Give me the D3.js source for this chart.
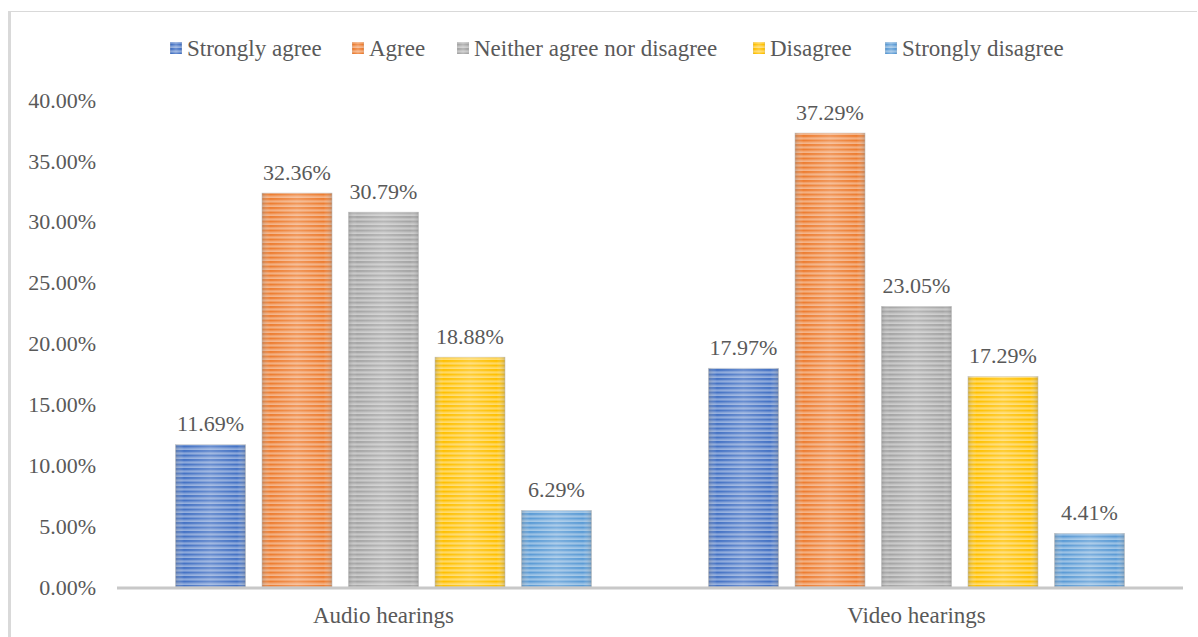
<!DOCTYPE html>
<html>
<head>
<meta charset="UTF-8" />
<title>Hearings survey</title>
<script src="https://d3js.org/d3.v7.min.js"></script>
<style>
  body { margin: 0; background: #fff; }
</style>
</head>
<body>
<div id="main"></div>
<script type="text/javascript">

  var categories = ['Audio hearings', 'Video hearings'];
  var responses = ['Strongly agree', 'Agree', 'Neither agree nor disagree', 'Disagree', 'Strongly disagree'];
  var colors = ['#4472C4', '#ED7D31', '#A5A5A5', '#FFC000', '#5B9BD5'];
  var audioValues = [11.69, 32.36, 30.79, 18.88, 6.29];
  var videoValues = [17.97, 37.29, 23.05, 17.29, 4.41];
  var yTicks = [0, 5, 10, 15, 20, 25, 30, 35, 40];

  var width = 1198, height = 637;
  var margin = { left: 117, right: 15, top: 100, bottom: 50 };
  var font = 'Liberation Serif';

  var svg = d3.select('#main').append('svg')
    .attr('width', width)
    .attr('height', height);

  // frame (left + top edges only)
  svg.append('line').attr('x1', 9.5).attr('x2', 9.5).attr('y1', 11).attr('y2', height)
    .attr('stroke', '#d9d9d9').attr('stroke-width', 3);
  svg.append('line').attr('x1', 8).attr('x2', 1197).attr('y1', 11.5).attr('y2', 11.5)
    .attr('stroke', '#d9d9d9').attr('stroke-width', 1);

  var x0 = d3.scaleBand().domain(categories)
    .range([margin.left, width - margin.right])
    .paddingInner(0).paddingOuter(0);

  var x1 = d3.scaleBand().domain(responses)
    .range([0, x0.bandwidth()])
    .paddingInner(0.19).paddingOuter(0.676);

  var y = d3.scaleLinear().domain([0, 40]).range([587, 100]);

  // stripe patterns + shading gradient
  var defs = svg.append('defs');
  var shade = defs.append('linearGradient').attr('id', 'shade')
    .attr('x1', '0%').attr('x2', '100%').attr('y1', '0%').attr('y2', '0%');
  shade.append('stop').attr('offset', '0%').attr('stop-color', '#808080').attr('stop-opacity', 0.35);
  shade.append('stop').attr('offset', '12%').attr('stop-color', '#ffffff').attr('stop-opacity', 0.0);
  shade.append('stop').attr('offset', '50%').attr('stop-color', '#ffffff').attr('stop-opacity', 0.2);
  shade.append('stop').attr('offset', '88%').attr('stop-color', '#ffffff').attr('stop-opacity', 0.0);
  shade.append('stop').attr('offset', '100%').attr('stop-color', '#808080').attr('stop-opacity', 0.35);

  colors.forEach(function(c, i) {
    var p = defs.append('pattern').attr('id', 'stripe' + i)
      .attr('patternUnits', 'userSpaceOnUse')
      .attr('width', 8).attr('height', 4.5);
    p.append('rect').attr('width', 8).attr('height', 4.5)
      .attr('fill', d3.interpolateRgb(c, '#ffffff')(0.5));
    p.append('rect').attr('y', 0).attr('width', 8).attr('height', 2.3).attr('fill', c);
    p.append('rect').attr('y', 3.2).attr('width', 8).attr('height', 0.6)
      .attr('fill', d3.interpolateRgb(c, '#ffffff')(0.15));
  });

  // y axis labels
  svg.append('g').selectAll('text').data(yTicks).enter().append('text')
    .attr('x', 96)
    .attr('y', function(d) { return y(d); })
    .attr('dy', '0.35em')
    .attr('text-anchor', 'end')
    .attr('fill', '#595959')
    .style('font-family', font)
    .style('font-size', '22px')
    .text(function(d) { return d.toFixed(2) + '%'; });

  var rows = categories.map(function(c, i) {
    var vals = i === 0 ? audioValues : videoValues;
    return { cat: c, vals: vals };
  });

  var groups = svg.append('g').selectAll('g').data(rows).enter().append('g')
    .attr('transform', function(d) { return 'translate(' + x0(d.cat) + ',0)'; });

  var bars = groups.selectAll('g.bar').data(function(d) {
    return d.vals.map(function(v, j) { return { key: responses[j], v: v, j: j }; });
  }).enter().append('g').attr('class', 'bar');

  bars.append('rect')
    .attr('x', function(d) { return x1(d.key); })
    .attr('y', function(d) { return y(d.v); })
    .attr('width', x1.bandwidth())
    .attr('height', function(d) { return y(0) - y(d.v); })
    .attr('fill', function(d) { return 'url(#stripe' + d.j + ')'; })
    .attr('stroke', '#d0d0d0').attr('stroke-width', 0.6);

  bars.append('rect')
    .attr('x', function(d) { return x1(d.key); })
    .attr('y', function(d) { return y(d.v); })
    .attr('width', x1.bandwidth())
    .attr('height', function(d) { return y(0) - y(d.v); })
    .attr('fill', 'url(#shade)');

  bars.append('text')
    .attr('x', function(d) { return x1(d.key) + x1.bandwidth() / 2; })
    .attr('y', function(d) { return y(d.v) - 21; })
    .attr('dy', '0.35em')
    .attr('text-anchor', 'middle')
    .attr('fill', '#595959')
    .style('font-family', font)
    .style('font-size', '22px')
    .text(function(d) { return d.v.toFixed(2) + '%'; });

  // x axis line
  svg.append('line')
    .attr('x1', margin.left).attr('x2', width - margin.right)
    .attr('y1', y(0) + 1).attr('y2', y(0) + 1)
    .attr('stroke', '#c8c8c8').attr('stroke-width', 3);

  svg.append('g').selectAll('text').data(categories).enter().append('text')
    .attr('x', function(d) { return x0(d) + x0.bandwidth() / 2; })
    .attr('y', 615)
    .attr('dy', '0.35em')
    .attr('text-anchor', 'middle')
    .attr('fill', '#595959')
    .style('font-family', font)
    .style('font-size', '23px')
    .text(function(d) { return d; });

  // legend
  var legendX = [170, 352, 457, 753, 885];
  var legend = svg.append('g').selectAll('g').data(responses).enter().append('g')
    .attr('transform', function(d, i) { return 'translate(' + legendX[i] + ',48)'; });
  legend.append('rect').attr('x', 0).attr('y', -6).attr('width', 12).attr('height', 12)
    .attr('fill', function(d, i) { return 'url(#stripe' + i + ')'; });
  legend.append('rect').attr('x', 0).attr('y', -6).attr('width', 12).attr('height', 12)
    .attr('fill', 'url(#shade)');
  legend.append('text').attr('x', 17).attr('dy', '0.35em')
    .attr('fill', '#595959')
    .style('font-family', font)
    .style('font-size', '23px')
    .text(function(d) { return d; });

</script>
</body>
</html>
